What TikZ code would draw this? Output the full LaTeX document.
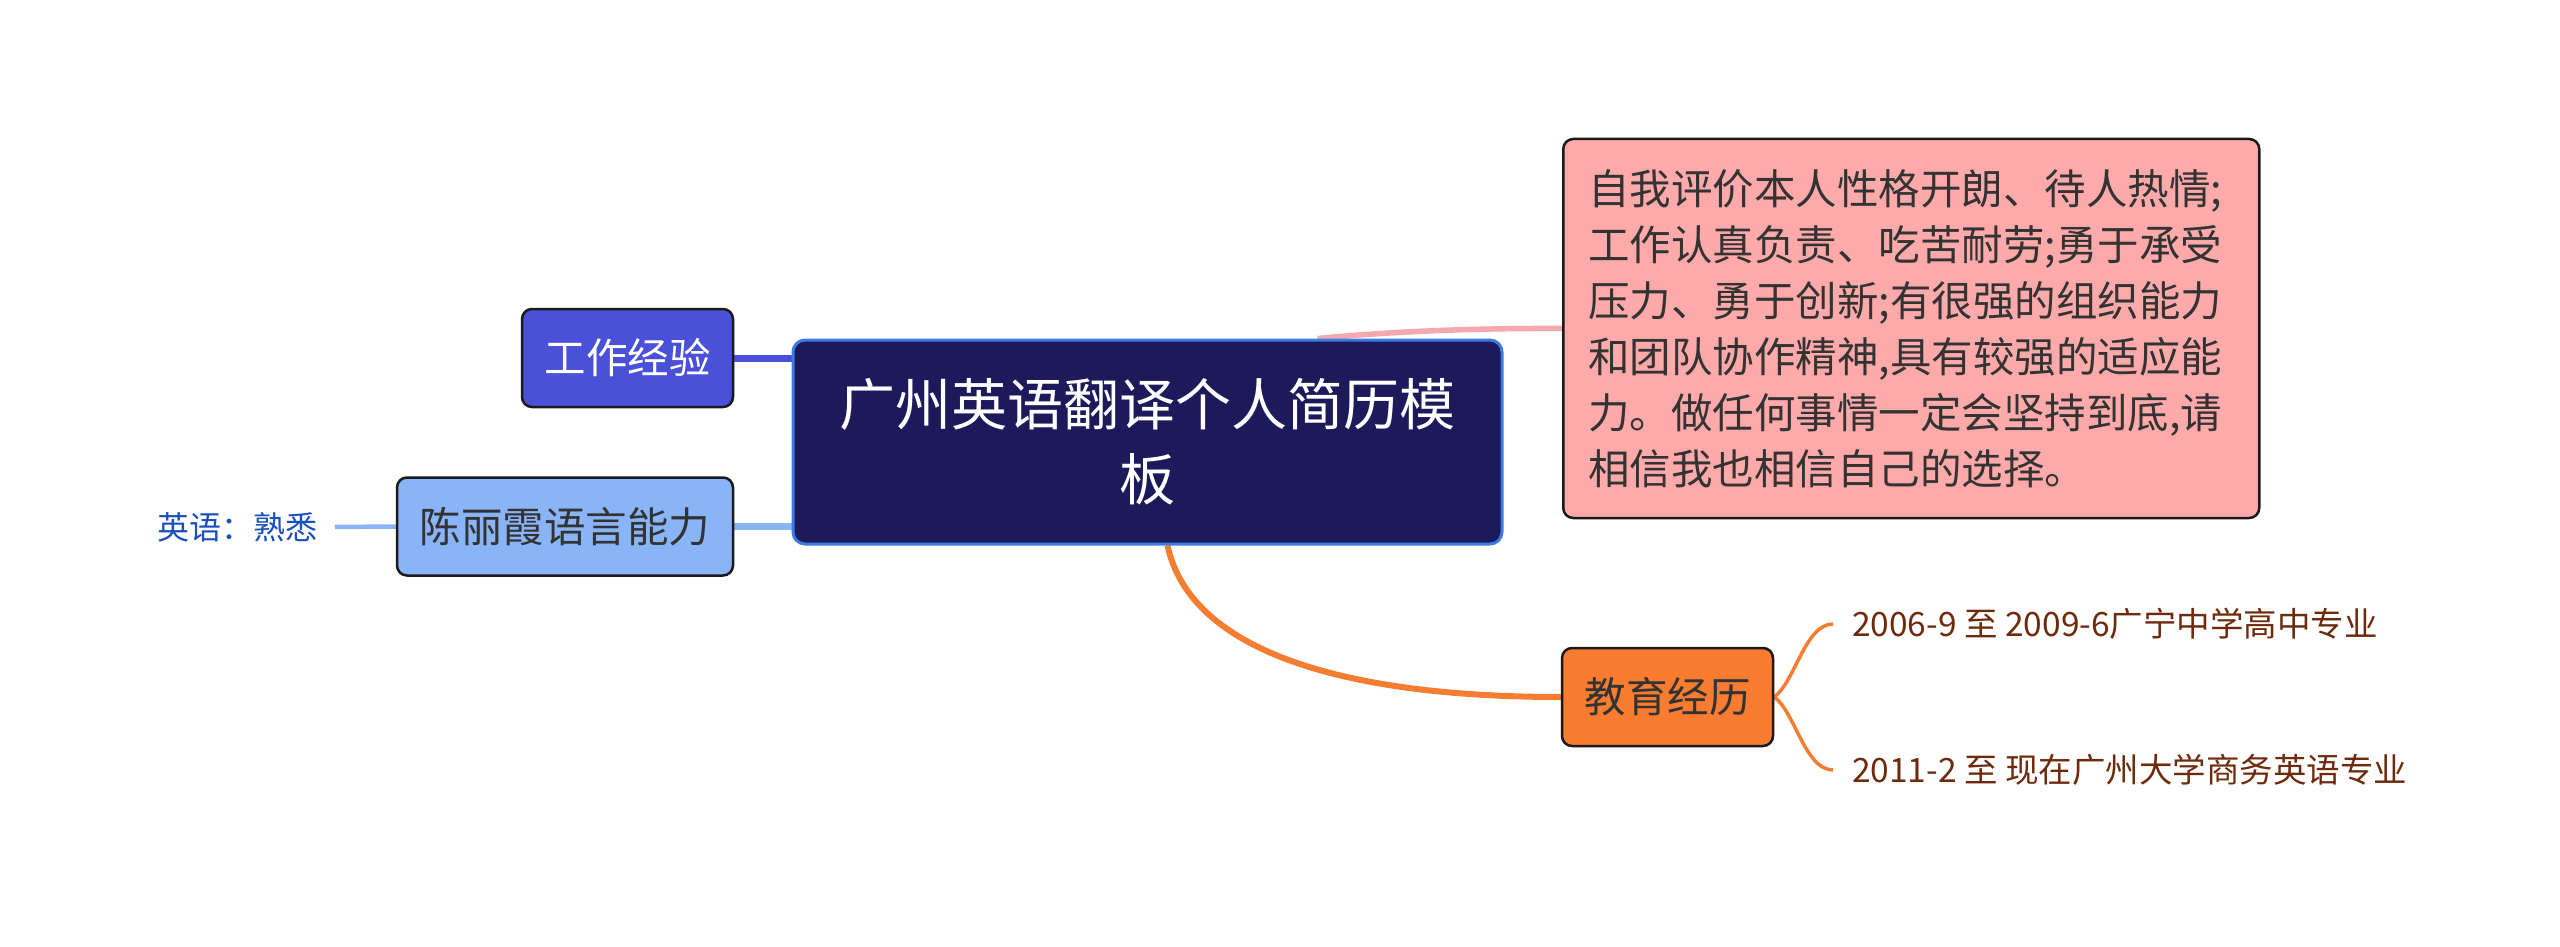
\documentclass[tikz,border=0pt]{standalone}
\usepackage{fontspec}
\setmainfont{Noto Sans CJK SC}
\usetikzlibrary{backgrounds}
\definecolor{rootfill}{HTML}{1C1A5B}
\definecolor{rootborder}{HTML}{3D7BE0}
\definecolor{workfill}{HTML}{4A51D8}
\definecolor{langfill}{HTML}{8AB4F8}
\definecolor{selffill}{HTML}{FFAAAA}
\definecolor{selfline}{HTML}{F5A9AE}
\definecolor{edufill}{HTML}{F97C30}
\definecolor{eduline}{HTML}{F57D32}
\definecolor{darktext}{HTML}{333333}
\definecolor{leaftext}{HTML}{6E2A0C}
\definecolor{bluetext}{HTML}{1A4FBF}
\definecolor{boxborder}{HTML}{1A1A1A}
\begin{document}
\begin{tikzpicture}[x=1pt,y=-1pt,
  mainbox/.style={rectangle, rounded corners=10pt, draw=boxborder, line width=2.5pt,
    minimum width=211pt, minimum height=98pt, inner sep=0pt,
    font=\fontsize{41.5}{50}\selectfont},
  rootbox/.style={rectangle, rounded corners=12pt, draw=rootborder, line width=3pt,
    fill=rootfill, text=white, minimum width=709pt, minimum height=204pt,
    inner sep=0pt, align=center, font=\fontsize{56}{75}\selectfont},
  leaf/.style={anchor=west, inner xsep=19pt, inner ysep=0pt, text=leaftext,
    font=\fontsize{33.5}{40}\selectfont},
  conn/.style={line cap=round}
]
\useasboundingbox (0,0) rectangle (2560,947);

\node[rootbox] (root) at (1147.5,442) {广州英语翻译个人简历模\\板};

\node[mainbox, fill=workfill, text=white] (work) at (627.5,358) {工作经验};
\node[mainbox, fill=langfill, text=darktext, minimum width=336pt] (lang) at (565,526.5) {陈丽霞语言能力};
\node[anchor=east, inner xsep=17pt, inner ysep=0pt, text=bluetext,
  font=\fontsize{32}{38}\selectfont] (eng) at (335,527) {英语：熟悉};

\node[mainbox, fill=selffill, text=darktext, anchor=west, minimum width=696pt,
  minimum height=379pt, text width=646pt, inner xsep=25pt, align=left,
  font=\fontsize{41.5}{56}\selectfont] (self) at (1562,328.5)
  {自我评价本人性格开朗、待人热情;\\工作认真负责、吃苦耐劳;勇于承受\\压力、勇于创新;有很强的组织能力\\和团队协作精神,具有较强的适应能\\力。做任何事情一定会坚持到底,请\\相信我也相信自己的选择。};

\node[mainbox, fill=edufill, text=darktext] (edu) at (1667.5,697) {教育经历};

\node[leaf] (leafa) at (1833,624) {2006-9 至 2009-6广宁中学高中专业};
\node[leaf] (leafb) at (1833,770) {2011-2 至 现在广州大学商务英语专业};

\begin{pgfonlayer}{background}
\draw[line width=7pt, color=workfill] (work.east) -- (work.east -| root.west);
\draw[line width=7pt, color=langfill] (lang.east) -- (lang.east -| root.west);
\draw[line width=4.5pt, color=langfill] (eng.east) -- (lang.west);
\draw[line width=5.5pt, color=selfline] ([xshift=170pt]root.north) .. controls (1385,332) and (1470,328) .. (self.west);
\draw[line width=6pt, color=eduline] ([xshift=20pt]root.south) .. controls (1190,650) and (1340,697) .. (edu.west);
\draw[line width=3.5pt, color=eduline] (edu.east) .. controls (1795,682) and (1805,624) .. (leafa.west);
\draw[line width=3.5pt, color=eduline] (edu.east) .. controls (1795,712) and (1805,770) .. (leafb.west);
\end{pgfonlayer}
\end{tikzpicture}
\end{document}
